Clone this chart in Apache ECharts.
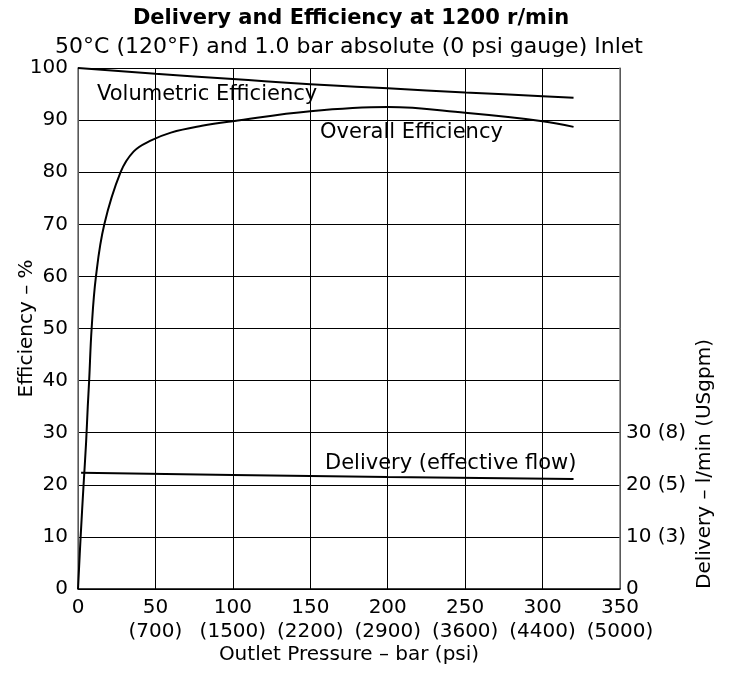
<!DOCTYPE html>
<html>
<head>
<meta charset="utf-8">
<script src="https://cdn.jsdelivr.net/npm/echarts@6/dist/echarts.min.js"></script>
<style>
  html, body { margin: 0; padding: 0; background: #fff; }
  #main { width: 732px; height: 679px; }
</style>
</head>
<body>
<div id="main"></div>
<script>
var myChart = echarts.init(document.getElementById('main'))

// pressure ticks (bar) and their psi equivalents
var barTicks = [0, 50, 100, 150, 200, 250, 300, 350]
var psiTicks = ['', '(700)', '(1500)', '(2200)', '(2900)', '(3600)', '(4400)', '(5000)']
// right axis labels, l/min (USgpm)
var deliveryTicks = { 0: '0', 10: '10 (3)', 20: '20 (5)', 30: '30 (8)' }

// [pressure bar, %]
var volumetric = [[0, 100], [50, 98.9], [100, 97.9], [150, 96.9], [200, 96.1], [250, 95.3], [300, 94.6], [320, 94.3]]
var overall = [[0, 0], [1.7, 10], [3.6, 20], [5.2, 28], [6.3, 35], [7.2, 40], [8.8, 50], [11.6, 60], [17, 70],
  [27.5, 80], [36, 84], [46.5, 86], [60, 87.6], [80, 88.9], [100, 89.8], [150, 91.7], [200, 92.5],
  [250, 91.4], [300, 89.8], [320, 88.7]]
// [pressure bar, l/min]
var delivery = [[2, 22.3], [100, 21.9], [200, 21.5], [320, 21.1]]

var font = 'DejaVu Sans, sans-serif'
var fs = 20

option = {
  animation: false,
  backgroundColor: '#fff',
  textStyle: { fontFamily: font },
  title: [
    {
      text: 'Delivery and Efficiency at 1200 r/min',
      left: 346,
      textAlign: 'center',
      top: 3,
      textStyle: { fontSize: 21, fontWeight: 'bold', color: '#000', fontFamily: font }
    },
    {
      text: '50°C (120°F) and 1.0 bar absolute (0 psi gauge) Inlet',
      left: 344,
      textAlign: 'center',
      top: 31,
      textStyle: { fontSize: 22, fontWeight: 'normal', color: '#000', fontFamily: font }
    }
  ],
  grid: { left: 78, right: 112, top: 68, bottom: 90, show: false, outerBoundsMode: 'none', containLabel: false },
  xAxis: {
    type: 'value',
    min: 0,
    max: 350,
    interval: 50,
    name: 'Outlet Pressure – bar (psi)',
    nameLocation: 'middle',
    nameGap: 66,
    nameMoveOverlap: false,
    nameTextStyle: { fontSize: fs, color: '#000', verticalAlign: 'middle' },
    axisLine: { lineStyle: { color: '#000', width: 1.5 } },
    axisTick: { show: false },
    axisLabel: {
      fontSize: fs,
      color: '#000',
      margin: 7,
      lineHeight: 24,
      formatter: function(v) {
        var i = barTicks.indexOf(v)
        return psiTicks[i] ? v + '\n' + psiTicks[i] : String(v)
      }
    },
    splitLine: { show: true, lineStyle: { color: '#000', width: 1 } }
  },
  yAxis: [
    {
      type: 'value',
      min: 0,
      max: 100,
      interval: 10,
      name: 'Efficiency – %',
      nameLocation: 'middle',
      nameGap: 51,
      nameMoveOverlap: false,
      nameTextStyle: { fontSize: fs, color: '#000', verticalAlign: 'middle' },
      axisLine: { show: true, lineStyle: { color: '#777', width: 1.5 } },
      axisTick: { show: false },
      axisLabel: { fontSize: fs, color: '#000', margin: 10 },
      splitLine: { show: true, lineStyle: { color: '#000', width: 1 } }
    },
    {
      type: 'value',
      min: 0,
      max: 100,
      interval: 10,
      position: 'right',
      axisLine: { show: true, lineStyle: { color: '#777', width: 1.5 } },
      axisTick: { show: false },
      axisLabel: {
        fontSize: fs,
        color: '#000',
        margin: 6,
        formatter: function(v) {
          return deliveryTicks[v] !== undefined ? deliveryTicks[v] : ''
        }
      },
      splitLine: { show: false }
    }
  ],
  graphic: [
    { type: 'text', left: 97, top: 84, style: { text: 'Volumetric Efficiency', fontSize: 21, fontFamily: font, fill: '#000' } },
    { type: 'text', left: 320, top: 122, style: { text: 'Overall Efficiency', fontSize: 21, fontFamily: font, fill: '#000' } },
    { type: 'text', left: 325, top: 453, style: { text: 'Delivery (effective flow)', fontSize: 21, fontFamily: font, fill: '#000' } },
    {
      type: 'text',
      x: 705,
      y: 464,
      rotation: Math.PI / 2,
      style: {
        text: 'Delivery – l/min (USgpm)',
        fontSize: fs,
        fontFamily: font,
        fill: '#000',
        align: 'center',
        verticalAlign: 'middle'
      }
    }
  ],
  series: [
    {
      name: 'Volumetric Efficiency',
      type: 'line',
      data: volumetric,
      smooth: true,
      showSymbol: false,
      lineStyle: { color: '#000', width: 2 }
    },
    {
      name: 'Overall Efficiency',
      type: 'line',
      data: overall,
      smooth: 0.4,
      showSymbol: false,
      lineStyle: { color: '#000', width: 2 }
    },
    {
      name: 'Delivery',
      type: 'line',
      yAxisIndex: 1,
      data: delivery,
      showSymbol: false,
      lineStyle: { color: '#000', width: 2 }
    }
  ]
}
myChart.setOption(option)
window.onresize = function() {
  myChart.resize()
}
</script>
</body>
</html>
